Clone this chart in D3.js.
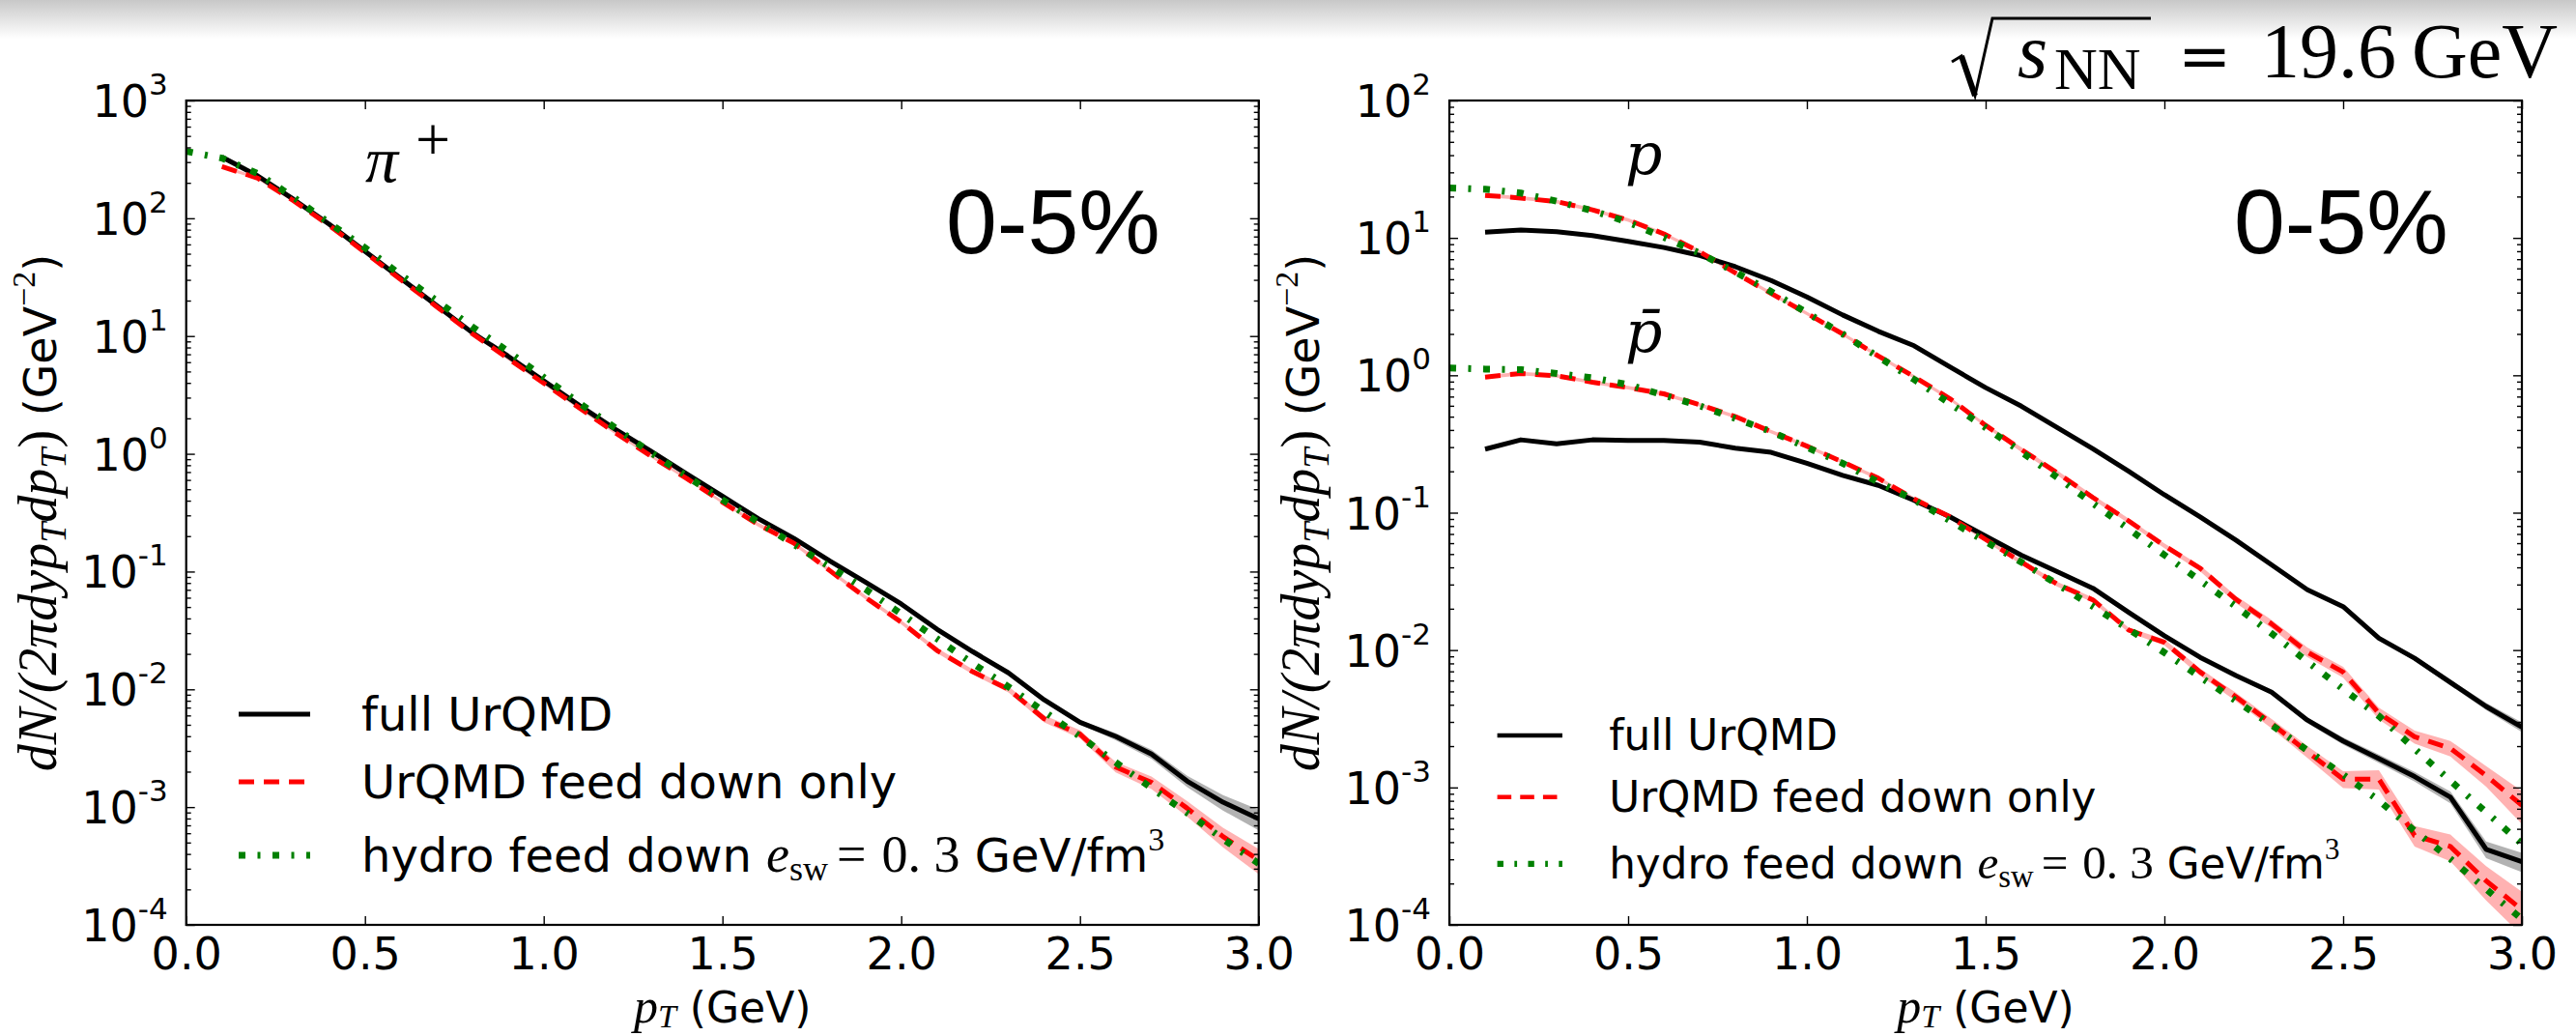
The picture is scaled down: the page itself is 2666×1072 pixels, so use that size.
<!DOCTYPE html>
<html>
<head>
<meta charset="utf-8">
<script src="https://cdn.jsdelivr.net/npm/d3@7/dist/d3.min.js"></script>
<style>
html,body{margin:0;padding:0;background:#fff;}
svg{display:block;}
text{white-space:pre;}
</style>
</head>
<body>
<svg id="chart" width="2666" height="1072" xmlns="http://www.w3.org/2000/svg"></svg>
<script>
// ---------------- data ----------------
const pT = [0.1,0.2,0.3,0.4,0.5,0.6,0.7,0.8,0.9,1.0,1.1,1.2,1.3,1.4,1.5,1.6,1.7,1.8,1.9,2.0,2.1,2.2,2.3,2.4,2.5,2.6,2.7,2.8,2.9,3.0];
const pTHydro = [0.0,0.1,0.2,0.3,0.4,0.5,0.6,0.7,0.8,0.9,1.0,1.1,1.2,1.3,1.4,1.5,1.6,1.7,1.8,1.9,2.0,2.1,2.2,2.3,2.4,2.5,2.6,2.7,2.8,2.9,3.0];

// pi+
const piFull = [331,229,145,89.1,52.5,30.9,18.2,10.7,6.76,4.17,2.57,1.62,1.05,0.676,0.437,0.282,0.191,0.123,0.0813,0.0531,0.0324,0.0209,0.0138,0.00813,0.00525,0.00398,0.00282,0.00166,0.00110,0.000794];
const piFullErr = [0.01,0.01,0.01,0.01,0.01,0.01,0.01,0.01,0.01,0.01,0.01,0.01,0.01,0.01,0.01,0.01,0.01,0.01,0.01,0.01,0.01,0.01,0.02,0.03,0.04,0.07,0.09,0.11,0.15,0.20];
const piFeed = [275,219,141,87.1,51.3,30.2,17.8,10.5,6.46,3.98,2.45,1.51,0.955,0.617,0.389,0.251,0.174,0.102,0.0603,0.0372,0.0214,0.0141,0.0100,0.00562,0.00417,0.00219,0.00162,0.000977,0.000562,0.000355];
const piFeedErr = [0.03,0.03,0.03,0.03,0.03,0.03,0.03,0.03,0.03,0.03,0.03,0.03,0.03,0.03,0.03,0.04,0.04,0.04,0.04,0.04,0.05,0.05,0.06,0.07,0.08,0.10,0.12,0.15,0.19,0.24];
const piHydro = [370,324,240,151,91.2,56.2,33.1,20.0,12.0,7.41,4.47,2.69,1.66,1.02,0.646,0.407,0.263,0.170,0.110,0.0708,0.0437,0.0269,0.0166,0.0105,0.00646,0.00398,0.00240,0.00145,0.000891,0.000537,0.000331];

// p
const pFull = [11.0,11.4,11.1,10.4,9.44,8.51,7.46,6.17,4.90,3.72,2.75,2.09,1.64,1.15,0.813,0.596,0.417,0.292,0.200,0.135,0.0933,0.0631,0.0417,0.0275,0.0207,0.0122,0.00871,0.00582,0.00389,0.00275];
const pFullErr = [0.02,0.02,0.02,0.02,0.02,0.02,0.02,0.02,0.02,0.02,0.02,0.02,0.02,0.02,0.02,0.02,0.02,0.02,0.02,0.02,0.02,0.02,0.02,0.02,0.02,0.03,0.04,0.05,0.06,0.08];
const pFeed = [20.4,19.5,18.4,16.0,13.5,10.7,7.94,5.56,3.94,2.82,2.00,1.38,0.977,0.676,0.432,0.288,0.195,0.129,0.0871,0.0575,0.0394,0.0234,0.0155,0.00966,0.00692,0.00347,0.00234,0.00193,0.00122,0.000741];
const pFeedErr = [0.03,0.03,0.03,0.03,0.03,0.03,0.03,0.03,0.03,0.03,0.03,0.03,0.03,0.03,0.03,0.04,0.04,0.04,0.04,0.04,0.05,0.06,0.07,0.08,0.09,0.10,0.11,0.13,0.17,0.27];
const pHydro = [23.1,22.6,21.2,18.5,15.8,13.0,10.1,7.73,5.64,4.07,2.85,2.00,1.36,0.933,0.624,0.416,0.277,0.181,0.117,0.0762,0.0492,0.0321,0.0208,0.0132,0.00824,0.00520,0.00331,0.00191,0.00112,0.000661,0.000389];

// anti-p
const pbarFull = [0.290,0.339,0.317,0.339,0.335,0.335,0.326,0.295,0.275,0.229,0.187,0.158,0.123,0.0933,0.0676,0.0490,0.0372,0.0282,0.0188,0.0127,0.00885,0.00653,0.00493,0.00309,0.00218,0.00162,0.00120,0.000851,0.000355,0.000288];
const pbarFullErr = [0.02,0.02,0.02,0.02,0.02,0.02,0.02,0.02,0.02,0.02,0.02,0.02,0.02,0.02,0.02,0.02,0.02,0.02,0.03,0.03,0.03,0.03,0.04,0.05,0.06,0.07,0.08,0.10,0.14,0.16];
const pbarFeed = [0.971,1.03,0.993,0.891,0.813,0.733,0.610,0.501,0.389,0.305,0.234,0.178,0.126,0.0933,0.0638,0.0437,0.0302,0.0232,0.0140,0.0114,0.00692,0.00457,0.00292,0.00182,0.00115,0.00115,0.000447,0.000372,0.000209,0.000129];
const pbarFeedErr = [0.03,0.03,0.03,0.03,0.03,0.03,0.03,0.03,0.03,0.03,0.03,0.03,0.03,0.03,0.03,0.04,0.04,0.04,0.04,0.05,0.06,0.07,0.08,0.10,0.14,0.16,0.17,0.22,0.28,0.35];
const pbarHydro = [1.13,1.11,1.10,1.03,0.959,0.855,0.716,0.600,0.485,0.389,0.299,0.229,0.167,0.124,0.0875,0.0617,0.0437,0.0302,0.0208,0.0142,0.00959,0.00637,0.00428,0.00285,0.00186,0.00124,0.000804,0.000483,0.000302,0.000182,0.000110];

// ticks and labels
const xTickValues = [0.0,0.5,1.0,1.5,2.0,2.5,3.0];
const xTickLabels = ["0.0","0.5","1.0","1.5","2.0","2.5","3.0"];
const yTickValuesPi = [1e-4,1e-3,1e-2,1e-1,1e0,1e1,1e2,1e3];
const yTickExpPi = ["-4","-3","-2","-1","0","1","2","3"];
const yTickValuesP = [1e-4,1e-3,1e-2,1e-1,1e0,1e1,1e2];
const yTickExpP = ["-4","-3","-2","-1","0","1","2"];
const legendLabels = ["full UrQMD","UrQMD feed down only","hydro feed down "];
const centralityLabel = "0-5%";

// ---------------- drawing ----------------
const SANS = "'DejaVu Sans', sans-serif";
const SERIF = "'Liberation Serif', 'DejaVu Serif', serif";
const SERIF2 = "'DejaVu Serif', serif";
const svg = d3.select("#chart");
const defs = svg.append("defs");

// faint shading at the very top of the screenshot
const grad = defs.append("linearGradient").attr("id","topShade").attr("x1",0).attr("x2",0).attr("y1",0).attr("y2",1);
grad.append("stop").attr("offset","0%").attr("stop-color","#c8c8c8");
grad.append("stop").attr("offset","100%").attr("stop-color","#ffffff");
svg.append("rect").attr("x",0).attr("y",0).attr("width",2666).attr("height",40).attr("fill","url(#topShade)");

const panels = [
  {x0:192.7, x1:1302.7, y0:104, y1:957, yMax:1e3, yTicks:yTickValuesPi, yExp:yTickExpPi,
   species:[{full:piFull, fullErr:piFullErr, feed:piFeed, feedErr:piFeedErr, hydro:piHydro}],
   legend:{x:247, y:739, s:1.0}, ylabX:58, cent:{x:979, y:262}},
  {x0:1500, x1:2610, y0:104, y1:957, yMax:1e2, yTicks:yTickValuesP, yExp:yTickExpP,
   species:[{full:pFull, fullErr:pFullErr, feed:pFeed, feedErr:pFeedErr, hydro:pHydro},
            {full:pbarFull, fullErr:pbarFullErr, feed:pbarFeed, feedErr:pbarFeedErr, hydro:pbarHydro}],
   legend:{x:1549.6, y:761, s:0.91}, ylabX:1365, cent:{x:2312, y:262}}
];

const STY = {
  full: {stroke:"#000000", w:5, dash:null},
  feed: {stroke:"#ff0000", w:5, dash:"16,10"},
  hydro:{stroke:"#008000", w:7, dash:"7,12.5,3,12.5"}
};
function styleLine(sel, st){
  sel.attr("fill","none").attr("stroke",st.stroke).attr("stroke-width",st.w)
     .attr("stroke-linejoin","round").attr("stroke-linecap","butt");
  if (st.dash) sel.attr("stroke-dasharray", st.dash);
  return sel;
}

panels.forEach((P, i) => {
  const x = d3.scaleLinear().domain([0, 3]).range([P.x0, P.x1]);
  const y = d3.scaleLog().domain([1e-4, P.yMax]).range([P.y1, P.y0]);

  defs.append("clipPath").attr("id","clip"+i).append("rect")
    .attr("x",P.x0).attr("y",P.y0).attr("width",P.x1-P.x0).attr("height",P.y1-P.y0);
  const gData = svg.append("g").attr("clip-path",`url(#clip${i})`);

  const band = d3.area().x(d => x(d.t)).y0(d => y(d.v*(1-d.e))).y1(d => y(d.v*(1+d.e)));
  const line = d3.line().x(d => x(d.t)).y(d => y(d.v));

  const sets = P.species.map(s => ({
    full: pT.map((t,j) => ({t, v:s.full[j], e:s.fullErr[j]})),
    feed: pT.map((t,j) => ({t, v:s.feed[j], e:s.feedErr[j]})),
    hydro: pTHydro.map((t,j) => ({t, v:s.hydro[j]}))
  }));
  sets.forEach(s => {
    gData.append("path").datum(s.full).attr("d",band).attr("fill","#000").attr("fill-opacity",0.3);
    gData.append("path").datum(s.feed).attr("d",band).attr("fill","#ff0000").attr("fill-opacity",0.3);
  });
  sets.forEach(s => styleLine(gData.append("path").datum(s.full).attr("d",line), STY.full));
  sets.forEach(s => styleLine(gData.append("path").datum(s.feed).attr("d",line), STY.feed));
  sets.forEach(s => styleLine(gData.append("path").datum(s.hydro).attr("d",line), STY.hydro));

  // ---- axes ----
  const minor = y.ticks().filter(v => Math.abs(Math.log10(v) - Math.round(Math.log10(v))) > 1e-6);
  const clean = g => { g.select(".domain").remove(); g.selectAll(".tick line").attr("stroke","#000").attr("stroke-width",1.4); };

  const gl = svg.append("g").attr("transform",`translate(${P.x0},0)`)
    .call(d3.axisLeft(y).tickValues(P.yTicks).tickSizeInner(-9).tickSizeOuter(0).tickPadding(19).tickFormat(() => ""))
    .call(clean);
  gl.attr("font-family",SANS).attr("font-size",46);
  gl.selectAll(".tick text").attr("fill","#000").attr("dy","0.36em").each(function(d){
    const t = d3.select(this);
    const k = P.yTicks.indexOf(d);
    t.append("tspan").text("10");
    t.append("tspan").attr("dy",-23).attr("font-size",31).text(P.yExp[k]);
  });
  svg.append("g").attr("transform",`translate(${P.x0},0)`)
    .call(d3.axisLeft(y).tickValues(minor).tickSizeInner(-5).tickSizeOuter(0).tickFormat(() => "")).call(clean);
  svg.append("g").attr("transform",`translate(${P.x1},0)`)
    .call(d3.axisRight(y).tickValues(P.yTicks).tickSizeInner(-9).tickSizeOuter(0).tickFormat(() => "")).call(clean);
  svg.append("g").attr("transform",`translate(${P.x1},0)`)
    .call(d3.axisRight(y).tickValues(minor).tickSizeInner(-5).tickSizeOuter(0).tickFormat(() => "")).call(clean);
  svg.append("g").attr("transform",`translate(0,${P.y0})`)
    .call(d3.axisTop(x).tickValues(xTickValues).tickSizeInner(-9).tickSizeOuter(0).tickFormat(() => "")).call(clean);
  const gb = svg.append("g").attr("transform",`translate(0,${P.y1})`)
    .call(d3.axisBottom(x).tickValues(xTickValues).tickSizeInner(-9).tickSizeOuter(0).tickPadding(13)
      .tickFormat(d => xTickLabels[xTickValues.indexOf(d)])).call(clean);
  gb.attr("font-family",SANS).attr("font-size",46);
  gb.selectAll(".tick text").attr("fill","#000");

  svg.append("rect").attr("x",P.x0).attr("y",P.y0).attr("width",P.x1-P.x0).attr("height",P.y1-P.y0)
    .attr("fill","none").attr("stroke","#000").attr("stroke-width",2.2);

  // ---- axis titles ----
  const cy = (P.y0 + P.y1) / 2;
  const yl = svg.append("text").attr("transform",`translate(${P.ylabX},${cy}) rotate(-90)`)
    .attr("text-anchor","middle").attr("font-family",SANS).attr("font-size",46).attr("fill","#000");
  yl.append("tspan").attr("font-family",SERIF).attr("font-style","italic").attr("font-size",56).text("dN/(2πdyp");
  yl.append("tspan").attr("font-family",SERIF).attr("font-style","italic").attr("font-size",38).attr("dy",10).text("T");
  yl.append("tspan").attr("font-family",SERIF).attr("font-style","italic").attr("font-size",56).attr("dy",-10).text("dp");
  yl.append("tspan").attr("font-family",SERIF).attr("font-style","italic").attr("font-size",38).attr("dy",10).text("T");
  yl.append("tspan").attr("font-family",SERIF).attr("font-size",56).attr("dy",-10).text(")");
  yl.append("tspan").text(" (GeV");
  yl.append("tspan").attr("font-family",SERIF).attr("font-size",34).attr("dy",-22).text("−2");
  yl.append("tspan").attr("dy",22).text(")");

  const cx = (P.x0 + P.x1) / 2;
  const xl = svg.append("text").attr("x",cx).attr("y",1058).attr("text-anchor","middle")
    .attr("font-family",SANS).attr("font-size",44).attr("fill","#000");
  xl.append("tspan").attr("font-family",SERIF).attr("font-style","italic").attr("font-size",50).text("p");
  xl.append("tspan").attr("font-family",SERIF).attr("font-style","italic").attr("font-size",34).attr("dy",5).text("T");
  xl.append("tspan").attr("dy",-5).text(" (GeV)");

  // ---- centrality ----
  svg.append("text").attr("x",P.cent.x).attr("y",P.cent.y).attr("font-family","'Liberation Sans', Arial, sans-serif")
    .attr("font-size",95).attr("fill","#000").text(centralityLabel);

  // ---- legend ----
  const L = svg.append("g").attr("transform",`translate(${P.legend.x},${P.legend.y}) scale(${P.legend.s})`);
  const rows = [0, 70, 146];
  ["full","feed","hydro"].forEach((key, r) => {
    styleLine(L.append("path").attr("d",`M0,${rows[r]}L74,${rows[r]}`), STY[key]);
  });
  L.append("text").attr("x",127).attr("y",rows[0]+17).attr("font-family",SANS).attr("font-size",48).attr("fill","#000").text(legendLabels[0]);
  L.append("text").attr("x",127).attr("y",rows[1]+17).attr("font-family",SANS).attr("font-size",48).attr("fill","#000").text(legendLabels[1]);
  const t3 = L.append("text").attr("x",127).attr("y",rows[2]+17).attr("font-family",SANS).attr("font-size",48).attr("fill","#000");
  t3.append("tspan").text(legendLabels[2]);
  t3.append("tspan").attr("font-family",SERIF).attr("font-style","italic").attr("font-size",54).text("e");
  t3.append("tspan").attr("font-family",SERIF).attr("font-size",36).attr("dy",9).text("sw");
  t3.append("tspan").attr("font-family",SERIF).attr("font-size",54).attr("dy",-9).attr("dx",9).text("=");
  t3.append("tspan").attr("font-family",SERIF).attr("font-size",54).attr("dx",16).text("0. 3");
  t3.append("tspan").text(" GeV/fm");
  t3.append("tspan").attr("font-family",SERIF).attr("font-size",34).attr("dy",-22).text("3");
});

// ---- particle labels ----
const piLab = svg.append("text").attr("fill","#000");
piLab.append("tspan").attr("x",378).attr("y",188).attr("font-family",SERIF).attr("font-style","italic").attr("font-size",68).text("π");
piLab.append("tspan").attr("x",430).attr("y",166).attr("font-family",SERIF).attr("font-size",64).text("+");

svg.append("text").attr("x",1682).attr("y",180).attr("font-family",SERIF2).attr("font-style","italic")
  .attr("font-size",60).attr("fill","#000").text("p");
svg.append("text").attr("x",1682).attr("y",364).attr("font-family",SERIF2).attr("font-style","italic")
  .attr("font-size",60).attr("fill","#000").text("p\u0304");

// ---- collision energy ----
svg.append("path").attr("d","M2020,64 L2030,58 L2044,99 L2062,19 L2226,19")
  .attr("fill","none").attr("stroke","#000").attr("stroke-width",3).attr("stroke-linejoin","miter");
svg.append("path").attr("d","M2030,58 L2044,99").attr("stroke","#000").attr("stroke-width",6);
const en = svg.append("text").attr("fill","#000").attr("font-family",SERIF);
en.append("tspan").attr("x",2088).attr("y",80).attr("font-style","italic").attr("font-size",80).text("s");
en.append("tspan").attr("x",2126).attr("y",92).attr("font-size",62).text("NN ");
en.append("tspan").attr("x",2254).attr("y",80).attr("font-family",SERIF2).attr("font-size",66).text("= ");
en.append("tspan").attr("x",2340).attr("y",80).attr("font-size",80).text("19.6 ");
en.append("tspan").attr("x",2496).attr("y",80).attr("font-size",80).text("GeV");
</script>
</body>
</html>
